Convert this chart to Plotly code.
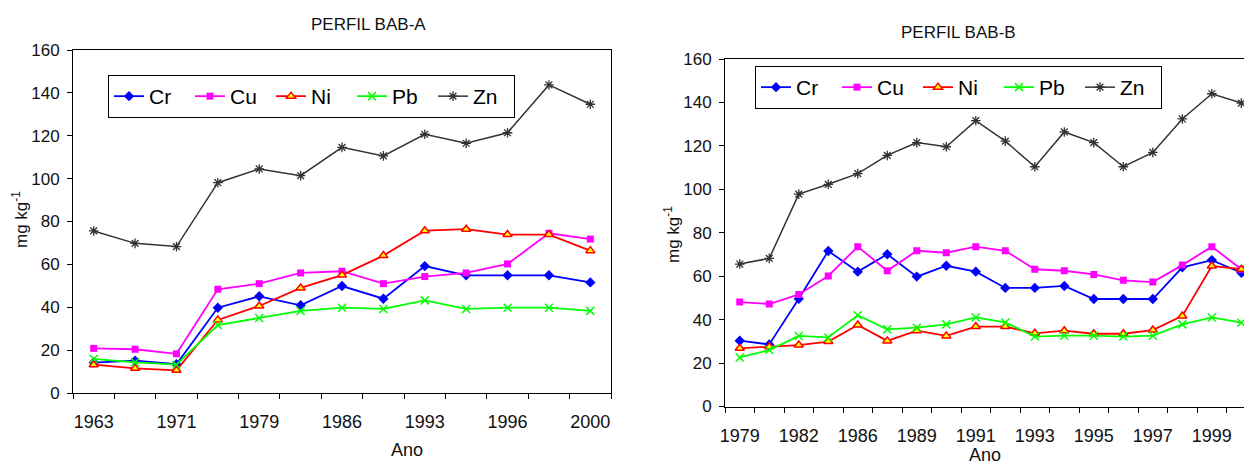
import plotly.graph_objects as go

# ---------------- data ----------------
years_a = ["1963", "1967", "1971", "1975", "1979", "1983", "1986",
           "1990", "1993", "1995", "1996", "1998", "2000"]
cr_a = [14.2, 15.1, 13.4, 39.8, 45.1, 40.9, 49.9, 44.0, 59.2, 54.9, 54.9, 54.9, 51.6]
cu_a = [20.8, 20.4, 18.3, 48.4, 51.0, 56.0, 56.8, 51.0, 54.3, 56.0, 60.2, 74.5, 71.8]
ni_a = [13.2, 11.5, 10.6, 34.1, 40.6, 49.0, 55.0, 64.1, 75.7, 76.4, 73.9, 73.9, 66.4]
pb_a = [15.9, 14.3, 13.2, 31.7, 35.0, 38.3, 39.8, 39.2, 43.2, 39.2, 39.8, 39.8, 38.3]
zn_a = [75.6, 69.8, 68.3, 98.1, 104.5, 101.4, 114.6, 110.6, 120.7, 116.5, 121.4, 143.7, 134.7]

years_b = ["1979", "1980", "1982", "1984", "1986", "1987", "1989", "1990", "1991",
           "1992", "1993", "1994", "1995", "1996", "1997", "1998", "1999", "2000"]
cr_b = [30.3, 28.6, 49.6, 71.6, 62.1, 70.1, 59.8, 64.8, 62.1, 54.6, 54.6, 55.5,
        49.5, 49.5, 49.5, 64.1, 67.4, 61.6]
cu_b = [48.1, 47.2, 51.6, 60.1, 73.6, 62.5, 71.7, 70.8, 73.6, 71.7, 63.2, 62.5,
        60.8, 58.1, 57.3, 65.1, 73.6, 63.2]
ni_b = [26.8, 27.5, 28.3, 29.9, 37.5, 30.2, 34.9, 32.5, 36.8, 36.8, 33.7, 34.9,
        33.5, 33.5, 35.2, 41.7, 64.7, 63.2]
pb_b = [22.6, 26.0, 32.5, 31.8, 42.0, 35.5, 36.3, 37.8, 41.0, 38.7, 32.2, 32.6,
        32.6, 32.2, 32.6, 37.8, 41.0, 38.6]
zn_b = [65.6, 68.2, 97.8, 102.3, 107.2, 115.6, 121.5, 119.6, 131.6, 122.2, 110.4,
        126.4, 121.5, 110.4, 117.0, 132.4, 144.0, 139.7]

names = ["Cr", "Cu", "Ni", "Pb", "Zn"]
title_a = "PERFIL BAB-A"
title_b = "PERFIL BAB-B"

# ---------------- styles ----------------
styles = {
    "Cr": dict(line=dict(color="#0000FF", width=1.8),
               marker=dict(symbol="diamond", size=8, color="#0000FF")),
    "Cu": dict(line=dict(color="#FF00FF", width=1.8),
               marker=dict(symbol="square", size=7, color="#FF00FF")),
    "Ni": dict(line=dict(color="#FF0000", width=1.8),
               marker=dict(symbol="triangle-up", size=8, color="#FFFF00",
                           line=dict(color="#FF0000", width=1.5))),
    "Pb": dict(line=dict(color="#00FF00", width=1.8),
               marker=dict(symbol="x-thin-open", size=8, color="#00FF00",
                           line=dict(color="#00FF00", width=1.5))),
    "Zn": dict(line=dict(color="#333333", width=1.5),
               marker=dict(symbol="asterisk-open", size=8, color="#333333",
                           line=dict(color="#333333", width=1.3))),
}

FONT = "Liberation Sans, Arial, sans-serif"
fig = go.Figure()

pos_a = list(range(len(years_a)))
pos_b = list(range(len(years_b)))

for nm, ys in zip(names, [cr_a, cu_a, ni_a, pb_a, zn_a]):
    fig.add_trace(go.Scatter(x=pos_a, y=ys, name=nm, mode="lines+markers",
                             xaxis="x", yaxis="y", legend="legend",
                             customdata=years_a,
                             hovertemplate="%{customdata}: %{y}",
                             **styles[nm]))
for nm, ys in zip(names, [cr_b, cu_b, ni_b, pb_b, zn_b]):
    fig.add_trace(go.Scatter(x=pos_b, y=ys, name=nm, mode="lines+markers",
                             xaxis="x2", yaxis="y2", legend="legend2",
                             customdata=years_b,
                             hovertemplate="%{customdata}: %{y}",
                             **styles[nm]))

W, H = 1244, 465

def px(x):
    return x / W

def py(y):
    return (H - y) / H

base = dict(showgrid=False, zeroline=False, showline=True,
            linecolor="#000000", linewidth=1, automargin=False)
xfont = dict(family=FONT, size=18, color="#111111")
yfont = dict(family=FONT, size=17, color="#111111")


def xaxis_for(years, pos, domain, rng, anchor, standoff):
    return dict(domain=domain, range=rng, tickmode="array",
                tickvals=pos[::2], ticktext=years[::2], ticks="",
                tickangle=0, tickfont=xfont, ticklabelstandoff=standoff,
                minor=dict(tickmode="array",
                           tickvals=[p - 0.5 for p in pos] + [pos[-1] + 0.5],
                           ticks="outside", ticklen=5, tickcolor="#000000",
                           showgrid=False),
                mirror=True, anchor=anchor, **base)


legend_common = dict(orientation="h", bgcolor="white", bordercolor="#000000",
                     borderwidth=1, xanchor="left", yanchor="top",
                     font=dict(family=FONT, size=21, color="#000000"),
                     itemwidth=30, entrywidth=36, tracegroupgap=0)

fig.update_layout(
    width=W, height=H,
    margin=dict(l=0, r=0, t=0, b=0),
    paper_bgcolor="white", plot_bgcolor="white",
    font=dict(family=FONT, color="#111111"),
    xaxis=xaxis_for(years_a, pos_a, [px(73), px(611)],
                    [-0.5, len(years_a) - 0.5], "y", 12),
    yaxis=dict(domain=[py(393), py(50)], range=[0, 160], dtick=20,
               ticks="outside", ticklen=5, tickcolor="#000000",
               tickfont=yfont, ticklabelstandoff=4,
               mirror=True, anchor="x", **base),
    xaxis2=xaxis_for(years_b, pos_b, [px(725), 1.0],
                     [-0.5, len(years_b) - 0.91], "y2", 13),
    yaxis2=dict(domain=[py(406.5), py(59)], range=[0, 160], dtick=20,
                ticks="outside", ticklen=5, tickcolor="#000000",
                tickfont=yfont, ticklabelstandoff=4,
                mirror=False, anchor="x2", **base),
    legend=dict(x=px(108), y=py(75), **legend_common),
    legend2=dict(x=px(755), y=py(66), **legend_common),
    showlegend=True,
)

annots = [
    dict(text=title_a, x=px(368), y=py(25), size=17),
    dict(text=title_b, x=px(958), y=py(33), size=17),
    dict(text="Ano", x=px(407), y=py(450), size=18),
    dict(text="Ano", x=px(985), y=py(455), size=18),
    dict(text="mg kg<sup>-1</sup>", x=px(20), y=py(220), size=17, angle=-90),
    dict(text="mg kg<sup>-1</sup>", x=px(672), y=py(235), size=17, angle=-90),
]
for a in annots:
    fig.add_annotation(text=a["text"], x=a["x"], y=a["y"], xref="paper",
                       yref="paper", showarrow=False, xanchor="center",
                       yanchor="middle", textangle=a.get("angle", 0),
                       font=dict(family=FONT, size=a["size"], color="#111111"))

fig.write_html("out.html")
